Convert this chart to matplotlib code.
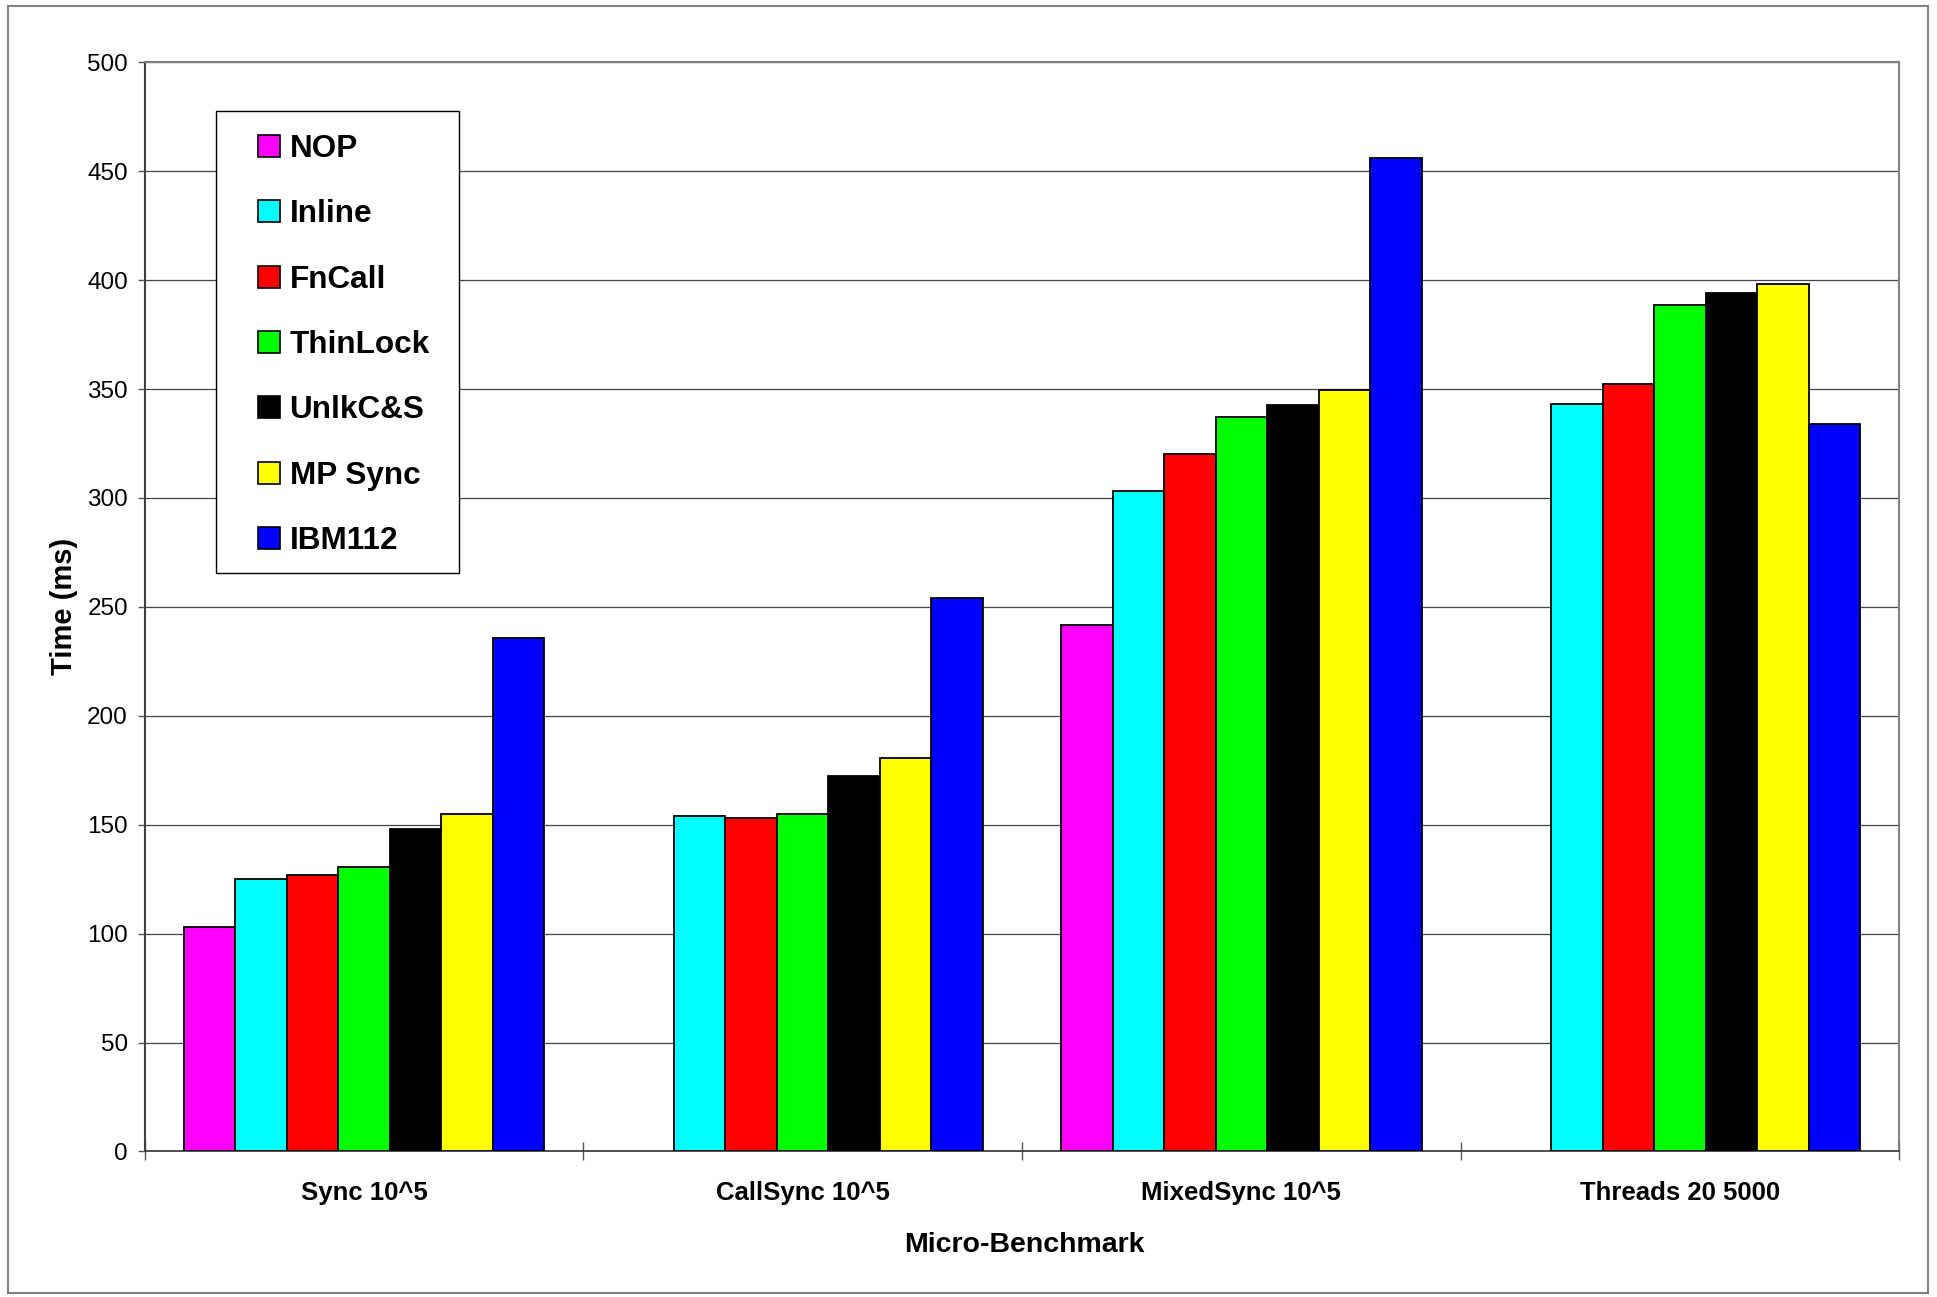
import numpy as np
import matplotlib
matplotlib.use("Agg")
import matplotlib.pyplot as plt
from matplotlib.patches import Patch, Rectangle

# Benchmark categories and per-implementation timings (ms)
benchmarks = ["Sync 10^5", "CallSync 10^5", "MixedSync 10^5", "Threads 20 5000"]
series_names = ["NOP", "Inline", "FnCall", "ThinLock", "UnlkC&S", "MP Sync", "IBM112"]
series_colors = ["#FF00FF", "#00FFFF", "#FF0000", "#00FF00", "#000000", "#FFFF00", "#0000FF"]

nop      = [103.0, np.nan, 241.5, np.nan]
inline   = [125.0, 154.0, 303.0, 343.0]
fncall   = [127.0, 153.0, 320.0, 352.5]
thinlock = [130.5, 155.0, 337.0, 388.5]
unlkcs   = [148.0, 172.5, 342.5, 394.0]
mpsync   = [155.0, 180.5, 349.5, 398.0]
ibm112   = [235.5, 254.0, 456.0, 334.0]

series_values = [nop, inline, fncall, thinlock, unlkcs, mpsync, ibm112]
y_ticks = list(range(0, 501, 50))

plt.rcParams["font.family"] = ["Liberation Sans", "DejaVu Sans"]

W, H = 1937, 1297
fig = plt.figure(figsize=(W / 100, H / 100), dpi=100)
ax = fig.add_axes([0.0747, 0.1122, 0.9058, 0.8398])

x = np.arange(len(benchmarks))
bar_w = 0.1174
n = len(series_names)
for i, (name, vals, col) in enumerate(zip(series_names, series_values, series_colors)):
    vals = np.asarray(vals, dtype=float)
    ok = ~np.isnan(vals)
    ax.bar(x[ok] + (i - (n - 1) / 2) * bar_w, vals[ok], width=bar_w,
           color=col, edgecolor="black", linewidth=1.3, zorder=3)

ax.set_xlim(-0.5, len(benchmarks) - 0.5)
ax.set_ylim(0, 500)

# y axis
ax.set_yticks(y_ticks)
ax.set_yticklabels([str(v) for v in y_ticks])
ax.tick_params(axis="y", direction="out", length=4.7, width=1.0, color="#555555",
               labelsize=17.5, pad=7.4)
ax.yaxis.grid(True, color="#444444", linewidth=0.9, zorder=0)
ax.set_axisbelow(True)

# x axis: labels at centers, marks at category boundaries
ax.set_xticks(x)
ax.set_xticklabels(benchmarks, fontweight="bold", fontsize=18.5)
ax.tick_params(axis="x", which="major", length=0, pad=21.4)
ax.set_xticks(np.arange(-0.5, len(benchmarks)), minor=True)
ax.tick_params(axis="x", which="minor", direction="inout", length=13, width=1.0,
               color="#555555")

for side in ("top", "right"):
    ax.spines[side].set_color("#808080")
    ax.spines[side].set_linewidth(1.5)
ax.spines["left"].set_color("#404040")
ax.spines["left"].set_linewidth(1.5)
ax.spines["bottom"].set_color("#404040")
ax.spines["bottom"].set_linewidth(1.3)

ax.set_ylabel("Time (ms)", fontweight="bold", fontsize=21)
ax.yaxis.set_label_coords(-0.038, 0.5)
ax.set_xlabel("Micro-Benchmark", fontweight="bold", fontsize=20.5)
ax.xaxis.set_label_coords(0.5016, -0.0736)

# legend box and entries
ax.add_patch(Rectangle((0.0408, 0.5315), 0.1386, 0.4237, transform=ax.transAxes,
                       facecolor="white", edgecolor="black", linewidth=1.0, zorder=4))
handles = [Patch(facecolor=c, edgecolor="black", linewidth=1.2) for c in series_colors]
leg = ax.legend(handles, series_names, loc="upper left", bbox_to_anchor=(0.0646, 0.934),
                frameon=False, borderpad=0, borderaxespad=0, labelspacing=1.12,
                handlelength=0.69, handleheight=0.69, handletextpad=0.31,
                prop={"family": "Liberation Sans", "weight": "bold", "size": 22.7})
leg.set_zorder(5)

# outer chart border
fig.patches.append(Rectangle((8 / W, 1 - 1293 / H), 1920 / W, 1287.3 / H,
                             transform=fig.transFigure, fill=False,
                             edgecolor="#808080", linewidth=1.5))

fig.savefig("out.png", dpi=100, facecolor="white")
